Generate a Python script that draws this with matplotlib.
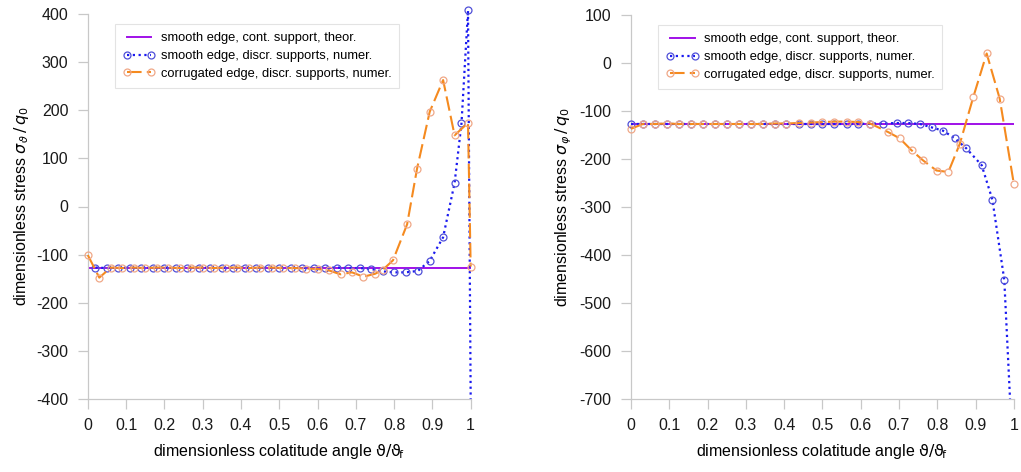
import matplotlib
matplotlib.use("Agg")
import matplotlib.pyplot as plt

plt.rcParams.update({
    "font.family": ["Liberation Sans", "DejaVu Sans"],
    "mathtext.fontset": "dejavusans",
    "font.size": 11.5,
    "axes.unicode_minus": False,
})

PURPLE = "#A010E8"
BLUE = "#1A1AF0"
BLUE_M = "#5050D8"
ORANGE = "#F58A1F"
ORANGE_M = "#F0A888"
GRAY = "#C8C8C8"

# theoretical solution (constant)
theor_x = [0.0, 1.0]
theor_l = [-127, -127]
theor_r = [-127, -127]

# left panel: sigma_theta
blue_l_x = [0.02, 0.05, 0.08, 0.11, 0.14, 0.17, 0.20, 0.23, 0.26, 0.29, 0.32, 0.35,
            0.38, 0.41, 0.44, 0.47, 0.50, 0.53, 0.56, 0.59, 0.62, 0.65, 0.68, 0.71,
            0.74, 0.77, 0.80, 0.83, 0.862, 0.893, 0.928, 0.958, 0.976, 0.993, 1.0]
blue_l_y = [-127, -128, -127, -127, -128, -127, -127, -128, -127, -127, -127, -128,
            -127, -127, -127, -128, -127, -127, -127, -128, -127, -127, -128, -128,
            -130, -135, -137, -137, -134, -113, -64, 49, 173, 408, -400]

orange_l_x = [0.0, 0.03, 0.06, 0.09, 0.12, 0.15, 0.18, 0.21, 0.24, 0.27, 0.30, 0.33,
              0.36, 0.39, 0.42, 0.45, 0.48, 0.51, 0.54, 0.57, 0.60, 0.63, 0.66, 0.69,
              0.72, 0.75, 0.77, 0.797, 0.834, 0.86, 0.893, 0.928, 0.958, 0.993, 1.0]
orange_l_y = [-101, -148, -127, -128, -127, -128, -127, -127, -128, -127, -127, -128,
              -127, -127, -128, -127, -127, -128, -128, -129, -130, -133, -141, -137,
              -146, -140, -132, -112, -37, 79, 197, 263, 148, 174, -125]

# right panel: sigma_phi
blue_r_x = [0.0, 0.031, 0.063, 0.094, 0.125, 0.156, 0.188, 0.219, 0.25, 0.281, 0.313,
            0.344, 0.375, 0.406, 0.438, 0.469, 0.50, 0.531, 0.563, 0.594, 0.625, 0.658,
            0.694, 0.724, 0.755, 0.785, 0.815, 0.846, 0.876, 0.916, 0.944, 0.975, 0.99]
blue_r_y = [-127, -127, -127, -127, -127, -127, -127, -127, -127, -127, -127,
            -127, -127, -127, -127, -127, -127, -127, -127, -127, -126, -126,
            -125, -125, -127, -134, -141, -157, -178, -213, -285, -452, -700]

orange_r_x = [0.0, 0.031, 0.063, 0.094, 0.125, 0.156, 0.188, 0.219, 0.25, 0.281, 0.313,
              0.344, 0.375, 0.406, 0.438, 0.469, 0.50, 0.531, 0.563, 0.594, 0.625, 0.672,
              0.702, 0.733, 0.763, 0.798, 0.829, 0.859, 0.894, 0.929, 0.963, 1.0]
orange_r_y = [-137, -127, -127, -126, -127, -127, -127, -127, -127, -127, -127,
              -127, -126, -126, -125, -124, -123, -122, -122, -123, -126, -144,
              -157, -182, -203, -224, -227, -168, -71, 20, -74, -252]

xticks = [0, 0.1, 0.2, 0.3, 0.4, 0.5, 0.6, 0.7, 0.8, 0.9, 1]
xticklabels = ["0", "0.1", "0.2", "0.3", "0.4", "0.5", "0.6", "0.7", "0.8", "0.9", "1"]

fig = plt.figure(figsize=(10.21, 4.72), dpi=100)
ax1 = fig.add_axes([0.086, 0.155, 0.375, 0.815])
ax2 = fig.add_axes([0.618, 0.155, 0.375, 0.813])


def draw(ax, bx, by, ox, oy, ty, ylim, yticks, ylabel):
    for s in ["top", "right"]:
        ax.spines[s].set_visible(False)
    for s in ["left", "bottom"]:
        ax.spines[s].set_color(GRAY)
        ax.spines[s].set_linewidth(0.9)
    ax.tick_params(colors=GRAY, labelcolor="#1a1a1a", length=7, width=0.9, pad=7)

    ax.plot(theor_x, ty, color=PURPLE, lw=1.4, zorder=2,
            label="smooth edge, cont. support, theor.")
    # last blue node runs off the axis: no marker drawn there
    ax.plot(bx, by, color=BLUE, lw=1.6, ls=(0, (1, 1.6)), marker="o", ms=5,
            mfc="none", mec=BLUE_M, mew=0.9, clip_on=False, zorder=3,
            markevery=list(range(len(bx) - 1)),
            label="smooth edge, discr. supports, numer.")
    ax.plot(ox, oy, color=ORANGE, lw=1.5, ls=(0, (7, 2.5)), marker="o", ms=5,
            mfc="none", mec=ORANGE_M, mew=0.9, clip_on=False, zorder=4,
            label="corrugated edge, discr. supports, numer.")

    ax.set_xlim(0, 1)
    ax.set_ylim(*ylim)
    ax.set_xticks(xticks)
    ax.set_xticklabels(xticklabels)
    ax.set_yticks(yticks)
    ax.set_ylabel(ylabel, labelpad=4)
    ax.set_xlabel(r"dimensionless colatitude angle $\mathrm{\vartheta/\vartheta_{\!f}}$",
                  labelpad=6)
    leg = ax.legend(loc="upper left", bbox_to_anchor=(0.055, 0.99), fontsize=9.3,
                    numpoints=2, frameon=True, fancybox=False, handlelength=2.5,
                    handletextpad=0.4, borderpad=0.6, labelspacing=0.45)
    leg.get_frame().set_edgecolor("#DDDDDD")
    leg.get_frame().set_linewidth(0.8)


draw(ax1, blue_l_x, blue_l_y, orange_l_x, orange_l_y, theor_l, (-400, 400),
     [-400, -300, -200, -100, 0, 100, 200, 300, 400],
     r"dimensionless stress $\sigma_{\vartheta}\,/\,q_0$")
draw(ax2, blue_r_x, blue_r_y, orange_r_x, orange_r_y, theor_r, (-700, 100),
     [-700, -600, -500, -400, -300, -200, -100, 0, 100],
     r"dimensionless stress $\sigma_{\varphi}\,/\,q_0$")

fig.savefig("out.png", dpi=100)
